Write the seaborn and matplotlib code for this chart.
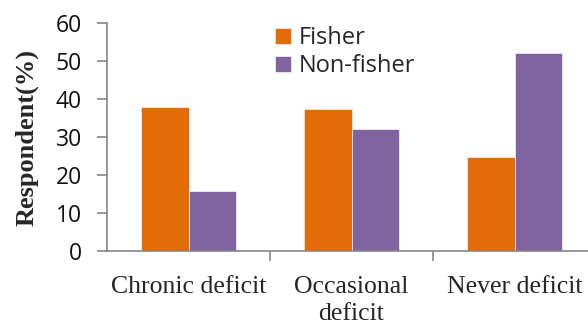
import numpy as np
import pandas as pd
import matplotlib.pyplot as plt
import seaborn as sns

# значения
categories = ['Chronic deficit', 'Occasional\ndeficit', 'Never deficit']
fisher = [38.0, 37.3, 24.8]
non_fisher = [15.7, 32.0, 52.2]
groups = ['Fisher', 'Non-fisher']

df = pd.DataFrame({
    'Category': categories * 2,
    'Group': [groups[0]] * 3 + [groups[1]] * 3,
    'Value': fisher + non_fisher,
})

sns.set_style('white')
plt.rcParams['font.family'] = ['Open Sans', 'DejaVu Sans']

fig = plt.figure(figsize=(5.88, 3.25), dpi=100)
ax = fig.add_axes([107 / 588, 1 - 251 / 325, (588 - 107) / 588, (251 - 23) / 325])

sns.barplot(data=df, x='Category', y='Value', hue='Group',
            palette=['#E36C09', '#8064A2'], width=0.577, saturation=1,
            edgecolor='#F2E6F0', linewidth=0.6, ax=ax)

axis_color = '#868686'
ax.set_ylim(0, 60)
ax.set_xlim(-0.5, -0.5 + (588 - 107) / 163)
ax.set_yticks(range(0, 61, 10))
ax.set_xticks([0.5, 1.5], minor=True)
ax.set_xticks([0, 1, 2])
ax.set_xticklabels(categories, family='Liberation Serif', fontsize=18.5,
                   linespacing=1.3)
ax.tick_params(axis='x', which='major', bottom=True, length=0, pad=18)
ax.tick_params(axis='x', which='minor', bottom=True, length=7, width=1.2,
               color=axis_color, direction='out')
ax.tick_params(axis='y', left=True, length=7, width=1.2, color=axis_color,
               direction='out', labelsize=16.5, labelcolor='#111111', pad=11)

for s in ['top', 'right']:
    ax.spines[s].set_visible(False)
for s in ['left', 'bottom']:
    ax.spines[s].set_color(axis_color)
    ax.spines[s].set_linewidth(1.2)

ax.set_xlabel('')
ax.set_ylabel('Respondent(%)', family='Liberation Serif', fontweight='bold',
              fontsize=19)
ax.yaxis.set_label_coords(-0.143, 0.5)

ax.legend(title=None, frameon=False, fontsize=17, loc='upper left',
          bbox_to_anchor=(0.35, 0.985), handlelength=0.68, handleheight=0.68,
          handletextpad=0.3, labelspacing=0.15, borderaxespad=0,
          borderpad=0)

plt.savefig('out.png', dpi=100)
